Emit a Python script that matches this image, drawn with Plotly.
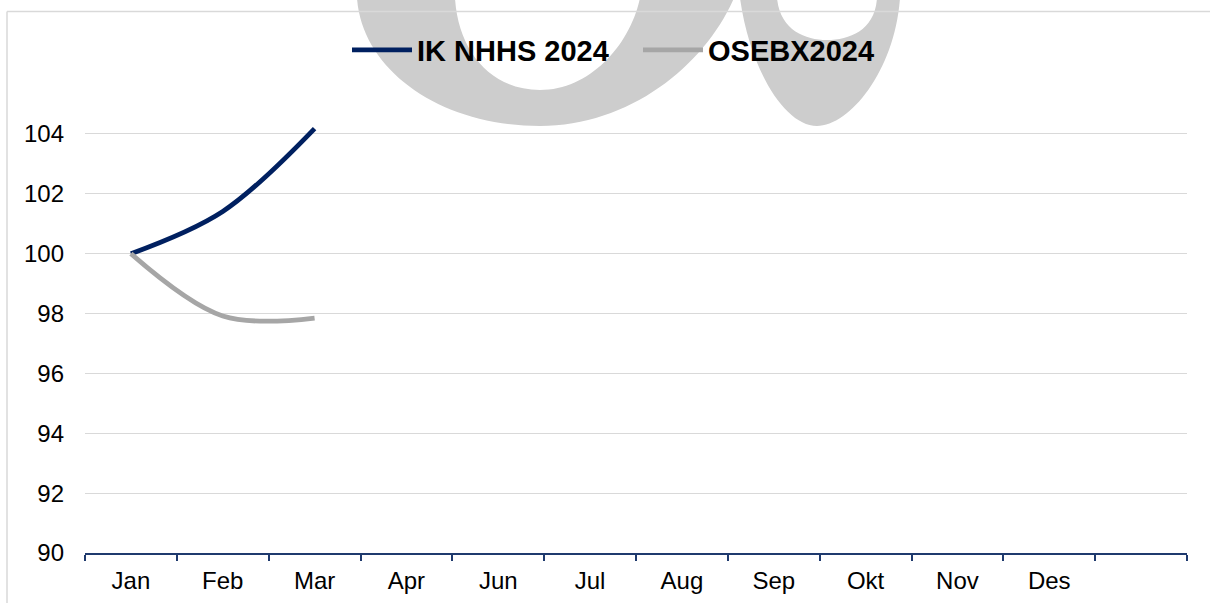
import plotly.graph_objects as go

# ---- data ----
months = ["Jan", "Feb", "Mar", "Apr", "Jun", "Jul", "Aug", "Sep", "Okt", "Nov", "Des", " "]
ik_nhhs_2024 = [100, 101.41, 104.18, None, None, None, None, None, None, None, None, None]
osebx_2024 = [100, 97.92, 97.85, None, None, None, None, None, None, None, None, None]
y_ticks = [90, 92, 94, 96, 98, 100, 102, 104]

W, H = 1210, 603
L, R, T, B = 85, 23, 104, 50
pw, ph = W - L - R, H - T - B

def px(x):
    return (x - L) / pw

def py(y):
    return (H - B - y) / ph

def path(cmds):
    out = []
    for c in cmds:
        if isinstance(c, str):
            out.append(c)
        else:
            out.append("%.5f,%.5f" % (px(c[0]), py(c[1])))
    return " ".join(out)

fig = go.Figure()
fig.add_trace(go.Scatter(x=months, y=ik_nhhs_2024, name="IK NHHS 2024", mode="lines",
                         line=dict(color="#002060", width=4.8, shape="spline", smoothing=1)))
fig.add_trace(go.Scatter(x=months, y=osebx_2024, name="OSEBX2024", mode="lines",
                         line=dict(color="#A6A6A6", width=4.8, shape="spline", smoothing=1)))

wm = "#CDCDCD"
left_u = path(["M", (357, -2), "C", (362, 70), (440, 126), (540, 126),
               "C", (630, 126), (705, 65), (734, -2),
               "L", (640, -2),
               "C", (630, 45), (590, 90), (540, 90),
               "C", (490, 90), (458, 50), (455, -2), "Z"])
right_u = path(["M", (740, -2), "C", (750, 70), (785, 126), (817, 126),
                "C", (850, 126), (895, 70), (900, -2),
                "L", (877, -2),
                "C", (875, 30), (850, 40), (827, 40),
                "C", (805, 40), (780, 30), (777, -2), "Z"])
shapes = [
    dict(type="path", path=left_u, xref="paper", yref="paper", fillcolor=wm, line=dict(width=0), layer="below"),
    dict(type="path", path=right_u, xref="paper", yref="paper", fillcolor=wm, line=dict(width=0), layer="below"),
    dict(type="line", xref="paper", yref="paper", x0=px(7), x1=px(1215), y0=py(11.5), y1=py(11.5),
         line=dict(color="#D9D9D9", width=1.5)),
    dict(type="line", xref="paper", yref="paper", x0=px(7), x1=px(7), y0=py(11.5), y1=py(610),
         line=dict(color="#D9D9D9", width=1.5)),
]

fig.update_layout(
    width=W, height=H,
    margin=dict(l=L, r=R, t=T, b=B, pad=0, autoexpand=False),
    paper_bgcolor="white", plot_bgcolor="white",
    font=dict(family="Arial, Liberation Sans, sans-serif", color="#000000", size=24),
    showlegend=True,
    legend=dict(orientation="h", x=px(347), y=py(50), xanchor="left", yanchor="middle",
                font=dict(size=29, family="Arial, Liberation Sans, sans-serif", weight="bold"),
                bgcolor="rgba(0,0,0,0)", itemwidth=60, entrywidth=216, traceorder="normal"),
    shapes=shapes,
    xaxis=dict(type="category", categoryorder="array", categoryarray=months,
               range=[-0.5, 11.5], showgrid=False, zeroline=False, automargin=False,
               showline=True, linecolor="#1F3A6E", linewidth=2,
               ticks="outside", tickson="boundaries", ticklen=6, tickwidth=2, tickcolor="#1F3A6E",
               tickfont=dict(size=24), ticklabelstandoff=5),
    yaxis=dict(range=[90, 105], tickvals=y_ticks, showgrid=True, gridcolor="#D9D9D9", gridwidth=1.3,
               zeroline=False, showline=False, ticks="", tickfont=dict(size=24), automargin=False,
               ticklabelstandoff=20),
)

fig.write_html("out.html", config={"displayModeBar": False},
               post_script="document.body.style.margin='0';")
